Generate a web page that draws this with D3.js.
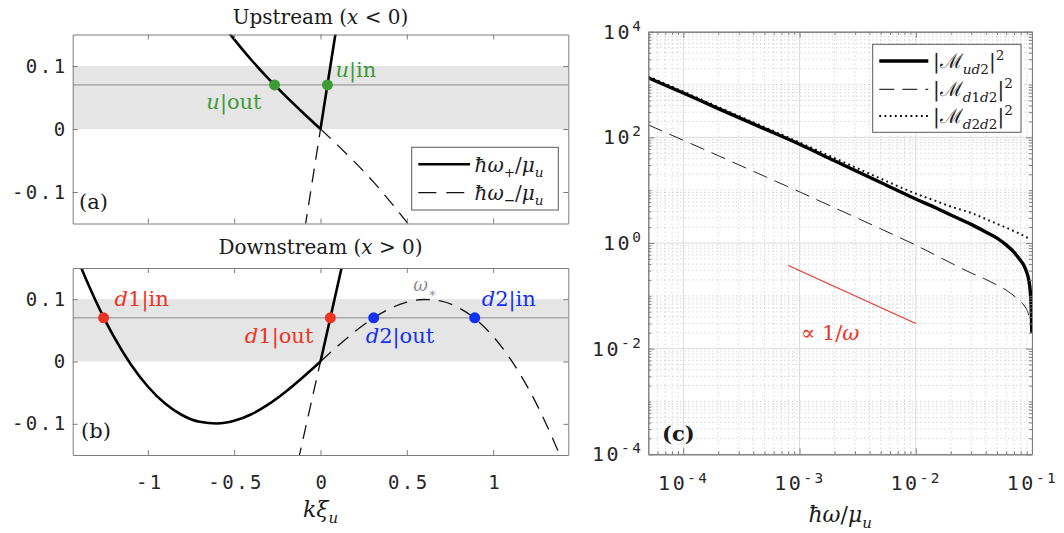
<!DOCTYPE html>
<html>
<head>
<meta charset="utf-8">
<script src="https://cdn.jsdelivr.net/npm/d3@7"></script>
<style>
  body { margin: 0; background: #fff; }
  svg text { font-family: "DejaVu Serif", "Liberation Serif", serif; fill: #1a1a1a; }
  .num text, text.num { font-family: "DejaVu Sans Mono", monospace; letter-spacing: 2.5px; fill: #262626; }
</style>
</head>
<body>
<svg id="fig" width="1064" height="533"></svg>
<script>
// ---------------- dispersion panels (a), (b) ----------------
const kDomain = [-1.435, 1.435];
const wDomain = [-0.15, 0.15];
const kTicks = [-1, -0.5, 0, 0.5, 1];
const wTicks = [-0.1, 0, 0.1];
const bandLimits = [0, 0.1];
const wProbe = 0.07;

// upstream branches [k, hbar*omega/mu]
const upPlus = [[-0.56, 0.164], [-0.52, 0.1494], [-0.45, 0.1256], [-0.4, 0.1095], [-0.3, 0.0796],
                [-0.2, 0.0518], [-0.1, 0.0255], [0, 0], [0.04, 0.0698], [0.09, 0.157]];
const upMinus = [[-0.09, -0.157], [-0.05, -0.0873], [0, 0], [0.1, -0.026], [0.2, -0.053],
                 [0.3, -0.082], [0.4, -0.114], [0.5, -0.148], [0.53, -0.158]];
// downstream branches
const downPlus = [[-1.42, 0.174], [-1.385, 0.150], [-1.35, 0.127], [-1.3, 0.0962], [-1.25, 0.0676],
                  [-1.2, 0.0415], [-1.1, -0.0039], [-1.0, -0.0401], [-0.9, -0.0675], [-0.8, -0.0862],
                  [-0.7, -0.0968], [-0.6, -0.0995], [-0.5, -0.0952], [-0.4, -0.0846], [-0.3, -0.0685],
                  [-0.2, -0.0481], [-0.1, -0.0248], [0, 0], [0.05, 0.0614], [0.1, 0.123], [0.13, 0.160]];
const downMinus = [[-0.13, -0.160], [-0.1, -0.123], [-0.05, -0.0614], [0, 0], [0.1, 0.0248],
                   [0.2, 0.0481], [0.3, 0.0685], [0.4, 0.0846], [0.5, 0.0952], [0.6, 0.0995],
                   [0.7, 0.0968], [0.8, 0.0862], [0.9, 0.0675], [1.0, 0.0401], [1.1, 0.0039],
                   [1.2, -0.0415], [1.25, -0.0676], [1.3, -0.0962], [1.35, -0.127], [1.385, -0.150],
                   [1.42, -0.174]];

// scattering modes at the probe frequency
const upModes = [[-0.266, 0.07], [0.040, 0.07]];
const upModeTags = ["out", "in"];
const downModes = [[-1.256, 0.07], [0.057, 0.07], [0.308, 0.07], [0.893, 0.07]];
const downModeBranch = ["1", "1", "2", "2"];
const downModeTags = ["in", "out", "out", "in"];
const omegaStar = [0.61, 0.0995];

// ---------------- spectrum panel (c) ----------------
const freqDomain = [5e-5, 0.1];
const ampDomain = [1e-4, 1e4];
const freqTicks = [1e-4, 1e-3, 1e-2, 1e-1];
const ampTicks = [1e-4, 1e-2, 1e0, 1e2, 1e4];

const Mud2 = [[5e-5, 1340], [1e-4, 690], [2e-4, 350], [5e-4, 145], [1e-3, 74], [2e-3, 36],
              [5e-3, 14], [1e-2, 6.8], [1.5e-2, 4.6], [2e-2, 3.4], [3e-2, 2.25], [4e-2, 1.62],
              [5e-2, 1.24], [6e-2, 0.92], [7e-2, 0.67], [8e-2, 0.46], [8.5e-2, 0.38], [9e-2, 0.28],
              [9.3e-2, 0.22], [9.5e-2, 0.17], [9.7e-2, 0.11], [9.8e-2, 0.075], [9.9e-2, 0.04],
              [9.95e-2, 0.02]];
const Md1d2 = [[5e-5, 172], [1e-4, 88], [2e-4, 45], [5e-4, 18.3], [1e-3, 9.3], [2e-3, 4.65],
               [5e-3, 1.85], [1e-2, 0.91], [2e-2, 0.42], [3e-2, 0.27], [4e-2, 0.205], [5e-2, 0.16],
               [6e-2, 0.128], [7e-2, 0.1], [8e-2, 0.078], [8.5e-2, 0.067], [9e-2, 0.055],
               [9.3e-2, 0.046], [9.5e-2, 0.038]];
const Md2d2 = [[5e-5, 1420], [1e-4, 735], [2e-4, 375], [5e-4, 156], [1e-3, 80], [2e-3, 40.5],
               [5e-3, 16.5], [1e-2, 8.6], [1.5e-2, 6.2], [2e-2, 4.9], [3e-2, 3.7], [4e-2, 2.85],
               [5e-2, 2.3], [6e-2, 1.95], [7e-2, 1.68], [8e-2, 1.47], [9e-2, 1.28], [9.5e-2, 1.2]];
const slopeGuide = [[8e-4, 0.375], [1e-2, 0.03]];

// ---------------- drawing ----------------
const svg = d3.select("#fig");
const GREEN = "#3d9a35", RED = "#ec3424", BLUE = "#1331f2", BOX = "#7d7d7d";

// text with italic parts, sub- and superscripts
function rich(g, x, y, parts, size, anchor, color) {
  const t = g.append("text").attr("x", x).attr("y", y)
    .attr("font-size", size).attr("text-anchor", anchor || "start");
  if (color) t.style("fill", color);
  let cur = 0;
  parts.forEach(p => {
    const shift = p.sub ? size * 0.28 : p.sup ? -size * 0.42 : 0;
    const ts = t.append("tspan").attr("dy", shift - cur).text(p.t);
    if (p.sub || p.sup) ts.attr("font-size", size * 0.68);
    if (p.i) ts.attr("font-style", "italic");
    if (color) ts.style("fill", color);
    cur = shift;
  });
  return t;
}

function dispersionPanel(top, bottom, plus, minus, showXLabels, id) {
  const left = 72.7, right = 568.3;
  const x = d3.scaleLinear().domain(kDomain).range([left, right]);
  const y = d3.scaleLinear().domain(wDomain).range([bottom, top]);
  const g = svg.append("g");
  g.append("clipPath").attr("id", id).append("rect")
    .attr("x", left).attr("y", top).attr("width", right - left).attr("height", bottom - top);
  const plot = g.append("g").attr("clip-path", `url(#${id})`);
  plot.append("rect").attr("x", left).attr("width", right - left)
    .attr("y", y(bandLimits[1])).attr("height", y(bandLimits[0]) - y(bandLimits[1]))
    .attr("fill", "#e6e5e6");
  plot.append("line").attr("x1", left).attr("x2", right)
    .attr("y1", y(wProbe)).attr("y2", y(wProbe)).attr("stroke", "#8a8a8a").attr("stroke-width", 1);
  const line = d3.line().x(d => x(d[0])).y(d => y(d[1])).curve(d3.curveMonotoneX);
  // each branch has a kink at k = 0: draw both sides separately
  const halves = arr => [arr.filter(d => d[0] <= 0), arr.filter(d => d[0] >= 0)];
  halves(minus).forEach(h => plot.append("path").attr("d", line(h)).attr("fill", "none")
    .attr("stroke", "#111").attr("stroke-width", 1.3).attr("stroke-dasharray", "14,9"));
  halves(plus).forEach(h => plot.append("path").attr("d", line(h)).attr("fill", "none")
    .attr("stroke", "#000").attr("stroke-width", 2.6));

  // axes drawn as a box with inward ticks
  const ax = (a, tx, ty) => g.append("g").attr("transform", `translate(${tx},${ty})`).call(a);
  const styleAxis = s => { s.selectAll("path.domain").attr("stroke", BOX); s.selectAll(".tick line").attr("stroke", BOX); };
  const bAx = ax(d3.axisBottom(x).tickValues(kTicks).tickSize(-5).tickSizeOuter(0).tickPadding(21)
    .tickFormat(d => showXLabels ? d3.format("")(d).replace("−", "-") : ""), 0, bottom);
  bAx.attr("class", "num").attr("font-size", 19);
  bAx.selectAll(".tick text").attr("dx", "1.5px").style("fill", "#262626");
  styleAxis(bAx);
  styleAxis(ax(d3.axisTop(x).tickValues(kTicks).tickSize(-5).tickSizeOuter(0).tickFormat(""), 0, top));
  const lAx = ax(d3.axisLeft(y).tickValues(wTicks).tickSize(-5).tickSizeOuter(0).tickPadding(5)
    .tickFormat(d => d3.format("")(d).replace("−", "-")), left, 0);
  lAx.attr("class", "num").attr("font-size", 19);
  lAx.selectAll(".tick text").style("fill", "#262626");
  styleAxis(lAx);
  styleAxis(ax(d3.axisRight(y).tickValues(wTicks).tickSize(-5).tickSizeOuter(0).tickFormat(""), right, 0));
  return { g, x, y, left, right, top, bottom };
}

// ---- panel (a) ----
const pa = dispersionPanel(34.5, 223.5, upPlus, upMinus, false, "clipA");
rich(svg, (pa.left + pa.right) / 2, 23.5,
  [{ t: "Upstream (" }, { t: "x", i: true }, { t: " < 0)" }], 20, "middle");
upModes.forEach((d, i) => {
  pa.g.append("circle").attr("cx", pa.x(d[0])).attr("cy", pa.y(d[1])).attr("r", 5.5).attr("fill", GREEN);
});
rich(pa.g, pa.x(upModes[0][0]) - 13, pa.y(upModes[0][1]) + 24,
  [{ t: "u", i: true }, { t: "|" + upModeTags[0] }], 21, "end", GREEN);
rich(pa.g, pa.x(upModes[1][0]) + 8, pa.y(upModes[1][1]) - 8,
  [{ t: "u", i: true }, { t: "|" + upModeTags[1] }], 21, "start", GREEN);
pa.g.append("text").attr("x", 79).attr("y", 209).attr("font-size", 21).text("(a)");

// legend (a)
const lgA = pa.g.append("g");
lgA.append("rect").attr("x", 411.7).attr("y", 147.3).attr("width", 146.6).attr("height", 62.7)
  .attr("fill", "#fff").attr("stroke", "#5a5a5a").attr("stroke-width", 1);
lgA.append("line").attr("x1", 418.3).attr("x2", 470).attr("y1", 164.3).attr("y2", 164.3)
  .attr("stroke", "#000").attr("stroke-width", 2.6);
lgA.append("line").attr("x1", 418.3).attr("x2", 470).attr("y1", 192.7).attr("y2", 192.7)
  .attr("stroke", "#111").attr("stroke-width", 1.3).attr("stroke-dasharray", "18,10");
rich(lgA, 474.5, 171.5, [{ t: "ħω", i: true }, { t: "+", sub: true }, { t: "/" }, { t: "μ", i: true }, { t: "u", i: true, sub: true }], 20);
rich(lgA, 474.5, 199.5, [{ t: "ħω", i: true }, { t: "−", sub: true }, { t: "/" }, { t: "μ", i: true }, { t: "u", i: true, sub: true }], 20);

// ---- panel (b) ----
const pb = dispersionPanel(268, 455, downPlus, downMinus, true, "clipB");
rich(svg, (pb.left + pb.right) / 2, 254,
  [{ t: "Downstream (" }, { t: "x", i: true }, { t: " > 0)" }], 20, "middle");
const downColors = [RED, RED, BLUE, BLUE];
downModes.forEach((d, i) => {
  pb.g.append("circle").attr("cx", pb.x(d[0])).attr("cy", pb.y(d[1])).attr("r", 5.5).attr("fill", downColors[i]);
});
const labelOffsets = [[11, -12, "start"], [-17, 25, "end"], [-8, 25, "start"], [7, -12, "start"]];
downModes.forEach((d, i) => {
  const o = labelOffsets[i];
  rich(pb.g, pb.x(d[0]) + o[0], pb.y(d[1]) + o[1],
    [{ t: "d", i: true }, { t: downModeBranch[i] + "|" + downModeTags[i] }], 21, o[2], downColors[i]);
});
rich(pb.g, pb.x(omegaStar[0]) - 1, pb.y(omegaStar[1]) - 8,
  [{ t: "ω", i: true }, { t: "∗", sub: true }], 18, "middle", "#8e8e8e");
pb.g.append("text").attr("x", 81).attr("y", 438).attr("font-size", 21).text("(b)");
rich(svg, (pb.left + pb.right) / 2, 517,
  [{ t: "kξ", i: true }, { t: "u", i: true, sub: true }], 22, "middle");

// ---- panel (c) ----
const pc = { left: 648.3, right: 1032, top: 31.7, bottom: 454.3 };
const xs = d3.scaleLog().domain(freqDomain).range([pc.left, pc.right]);
const ys = d3.scaleLog().domain(ampDomain).range([pc.bottom, pc.top]);
const gc = svg.append("g");
gc.append("clipPath").attr("id", "clipC").append("rect")
  .attr("x", pc.left).attr("y", pc.top).attr("width", pc.right - pc.left).attr("height", pc.bottom - pc.top);

const minorX = [], minorY = [];
for (let e = -5; e <= -1; e++) for (let m = 1; m <= 9; m++) {
  const v = m * Math.pow(10, e);
  if (v > freqDomain[0] && v < freqDomain[1] && !freqTicks.some(t => Math.abs(t - v) / v < 1e-9)) minorX.push(v);
}
for (let e = -4; e <= 3; e++) for (let m = 1; m <= 9; m++) {
  const v = m * Math.pow(10, e);
  if (v < ampDomain[1] && !ampTicks.some(t => Math.abs(t - v) / v < 1e-9)) minorY.push(v);
}
const grid = gc.append("g").attr("clip-path", "url(#clipC)");
grid.selectAll(".mx").data(minorX).join("line").attr("x1", d => xs(d)).attr("x2", d => xs(d))
  .attr("y1", pc.top).attr("y2", pc.bottom).attr("stroke", "#b8b8b8").attr("stroke-width", 0.8)
  .attr("stroke-dasharray", "1,3");
grid.selectAll(".my").data(minorY).join("line").attr("y1", d => ys(d)).attr("y2", d => ys(d))
  .attr("x1", pc.left).attr("x2", pc.right).attr("stroke", "#b8b8b8").attr("stroke-width", 0.8)
  .attr("stroke-dasharray", "1,3");
grid.selectAll(".gx").data(freqTicks).join("line").attr("x1", d => xs(d)).attr("x2", d => xs(d))
  .attr("y1", pc.top).attr("y2", pc.bottom).attr("stroke", "#dcdcdc").attr("stroke-width", 1);
grid.selectAll(".gy").data(ampTicks).join("line").attr("y1", d => ys(d)).attr("y2", d => ys(d))
  .attr("x1", pc.left).attr("x2", pc.right).attr("stroke", "#dcdcdc").attr("stroke-width", 1);

const specLine = d3.line().x(d => xs(d[0])).y(d => ys(d[1])).curve(d3.curveMonotoneX);
const plotC = gc.append("g").attr("clip-path", "url(#clipC)");
plotC.append("path").attr("d", specLine(Md1d2)).attr("fill", "none").attr("stroke", "#222")
  .attr("stroke-width", 1).attr("stroke-dasharray", "15,8");
plotC.append("path").attr("d", specLine(Md2d2)).attr("fill", "none").attr("stroke", "#111")
  .attr("stroke-width", 2).attr("stroke-dasharray", "1.8,3.4");
plotC.append("path").attr("d", specLine(Mud2)).attr("fill", "none").attr("stroke", "#000")
  .attr("stroke-width", 3.4);
plotC.append("path").attr("d", d3.line().x(d => xs(d[0])).y(d => ys(d[1]))(slopeGuide))
  .attr("fill", "none").attr("stroke", RED).attr("stroke-width", 1.1);
rich(gc, 801, 340, [{ t: "∝ 1/" }, { t: "ω", i: true }], 21, "start", RED);
gc.append("text").attr("x", 662).attr("y", 441).attr("font-size", 21).attr("font-weight", "bold").text("(c)");

// log axes with inward major/minor ticks
const supFmt = (sel) => sel.each(function (d) {
  const t = d3.select(this); const e = Math.round(Math.log10(d));
  t.text(null);
  t.append("tspan").text("10");
  t.append("tspan").attr("dy", "-0.55em").attr("font-size", "0.72em").text(e < 0 ? "-" + (-e) : String(e));
});
const axC = (a, tx, ty) => {
  const s = gc.append("g").attr("transform", `translate(${tx},${ty})`).call(a);
  s.selectAll("path.domain").attr("stroke", BOX);
  s.selectAll(".tick line").attr("stroke", BOX);
  return s;
};
const xb = axC(d3.axisBottom(xs).tickValues(freqTicks).tickSize(-6).tickSizeOuter(0).tickPadding(22), 0, pc.bottom);
xb.attr("class", "num").attr("font-size", 20);
xb.selectAll(".tick text").style("fill", "#262626").call(supFmt);
axC(d3.axisBottom(xs).tickValues(minorX).tickSize(-3).tickSizeOuter(0).tickFormat(""), 0, pc.bottom);
axC(d3.axisTop(xs).tickValues(freqTicks).tickSize(-6).tickSizeOuter(0).tickFormat(""), 0, pc.top);
axC(d3.axisTop(xs).tickValues(minorX).tickSize(-3).tickSizeOuter(0).tickFormat(""), 0, pc.top);
const yl = axC(d3.axisLeft(ys).tickValues(ampTicks).tickSize(-6).tickSizeOuter(0).tickPadding(5), pc.left, 0);
yl.attr("class", "num").attr("font-size", 20);
yl.selectAll(".tick text").style("fill", "#262626").call(supFmt);
axC(d3.axisLeft(ys).tickValues(minorY).tickSize(-3).tickSizeOuter(0).tickFormat(""), pc.left, 0);
axC(d3.axisRight(ys).tickValues(ampTicks).tickSize(-6).tickSizeOuter(0).tickFormat(""), pc.right, 0);
axC(d3.axisRight(ys).tickValues(minorY).tickSize(-3).tickSizeOuter(0).tickFormat(""), pc.right, 0);
rich(svg, (pc.left + pc.right) / 2, 522,
  [{ t: "ħω", i: true }, { t: "/" }, { t: "μ", i: true }, { t: "u", i: true, sub: true }], 22, "middle");

// legend (c)
const lgC = gc.append("g");
lgC.append("rect").attr("x", 872.7).attr("y", 44.3).attr("width", 148.3).attr("height", 88)
  .attr("fill", "#fff").attr("stroke", "#5a5a5a").attr("stroke-width", 1);
const legRows = [
  { sub: "ud2", w: 3.4, dash: null, y: 61 },
  { sub: "d1d2", w: 1, dash: "15,8", y: 89.3 },
  { sub: "d2d2", w: 2, dash: "1.8,3.4", y: 116 }
];
legRows.forEach(r => {
  const l = lgC.append("line").attr("x1", 879.3).attr("x2", 928.3).attr("y1", r.y).attr("y2", r.y)
    .attr("stroke", "#000").attr("stroke-width", r.w);
  if (r.dash) l.attr("stroke-dasharray", r.dash);
  const subParts = r.sub.match(/[a-z]|\d/g).map(c => ({ t: c, sub: true, i: /[a-z]/.test(c) }));
  rich(lgC, 933, r.y + 7, [{ t: "|ℳ" }].concat(subParts).concat([{ t: "|" }, { t: "2", sup: true }]), 20);
});
</script>
</body>
</html>
